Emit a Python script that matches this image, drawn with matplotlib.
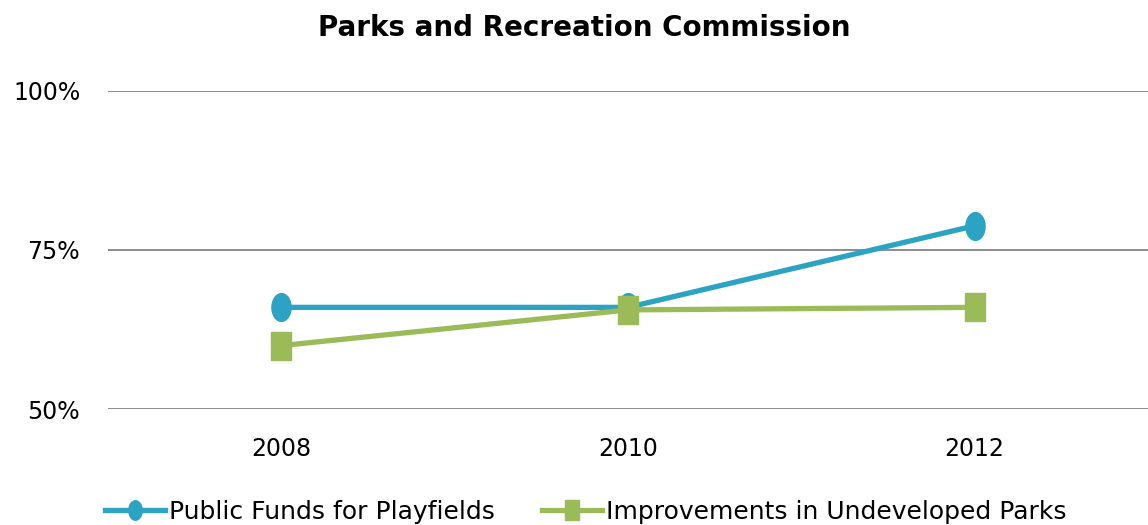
import matplotlib
matplotlib.use('Agg')
import matplotlib.pyplot as plt
from matplotlib.path import Path
from matplotlib.transforms import Affine2D

years = ['2008', '2010', '2012']
playfields = [66, 66, 78.8]
undeveloped = [60, 65.6, 66]
y_ticks = [50, 75, 100]

BLUE = '#2ca3c2'
GREEN = '#9bbb59'
GRID = '#8c8c8c'

plt.rcParams['font.family'] = ['DejaVu Sans']

# markers are a little taller than wide
oval = Path.unit_circle().transformed(Affine2D().scale(0.69, 1.0))
box = Path([(-0.69, -1), (0.69, -1), (0.69, 1), (-0.69, 1), (-0.69, -1)],
           [Path.MOVETO, Path.LINETO, Path.LINETO, Path.LINETO, Path.CLOSEPOLY])

fig = plt.figure(figsize=(11.48, 5.25), dpi=100)
ax = fig.add_axes([108 / 1148, 115.7 / 525, 1 - 108 / 1148, 318.6 / 525])

x = list(range(len(years)))
ax.plot(x, playfields, color=BLUE, lw=3.8, marker=oval, ms=20,
        label='Public Funds for Playfields', zorder=3, clip_on=False)
ax.plot(x, undeveloped, color=GREEN, lw=3.8, marker=box, ms=20,
        label='Improvements in Undeveloped Parks', zorder=4, clip_on=False)

ax.set_xlim(-0.5, len(years) - 0.5)
ax.set_ylim(50, 100)
ax.set_xticks(x)
ax.set_xticklabels(years)
ax.set_yticks(y_ticks)
ax.set_yticklabels([f'{v}%' for v in y_ticks])
ax.tick_params(axis='both', length=0, labelsize=17, colors='black')
ax.tick_params(axis='y', pad=20)
ax.tick_params(axis='x', pad=20)
ax.grid(axis='y', color=GRID, lw=1.4)
ax.set_axisbelow(True)
for side in ax.spines.values():
    side.set_visible(False)

fig.text(584 / 1148, 1 - 28 / 525, 'Parks and Recreation Commission',
         ha='center', va='center', fontsize=20, fontweight='bold')

fig.legend(loc='center', bbox_to_anchor=(0.51, 1 - 512 / 525), ncol=2,
           frameon=False, fontsize=18, handlelength=2.4, handletextpad=0.15,
           columnspacing=1.9, markerscale=0.7, borderaxespad=0)

fig.savefig('out.png', dpi=100)
